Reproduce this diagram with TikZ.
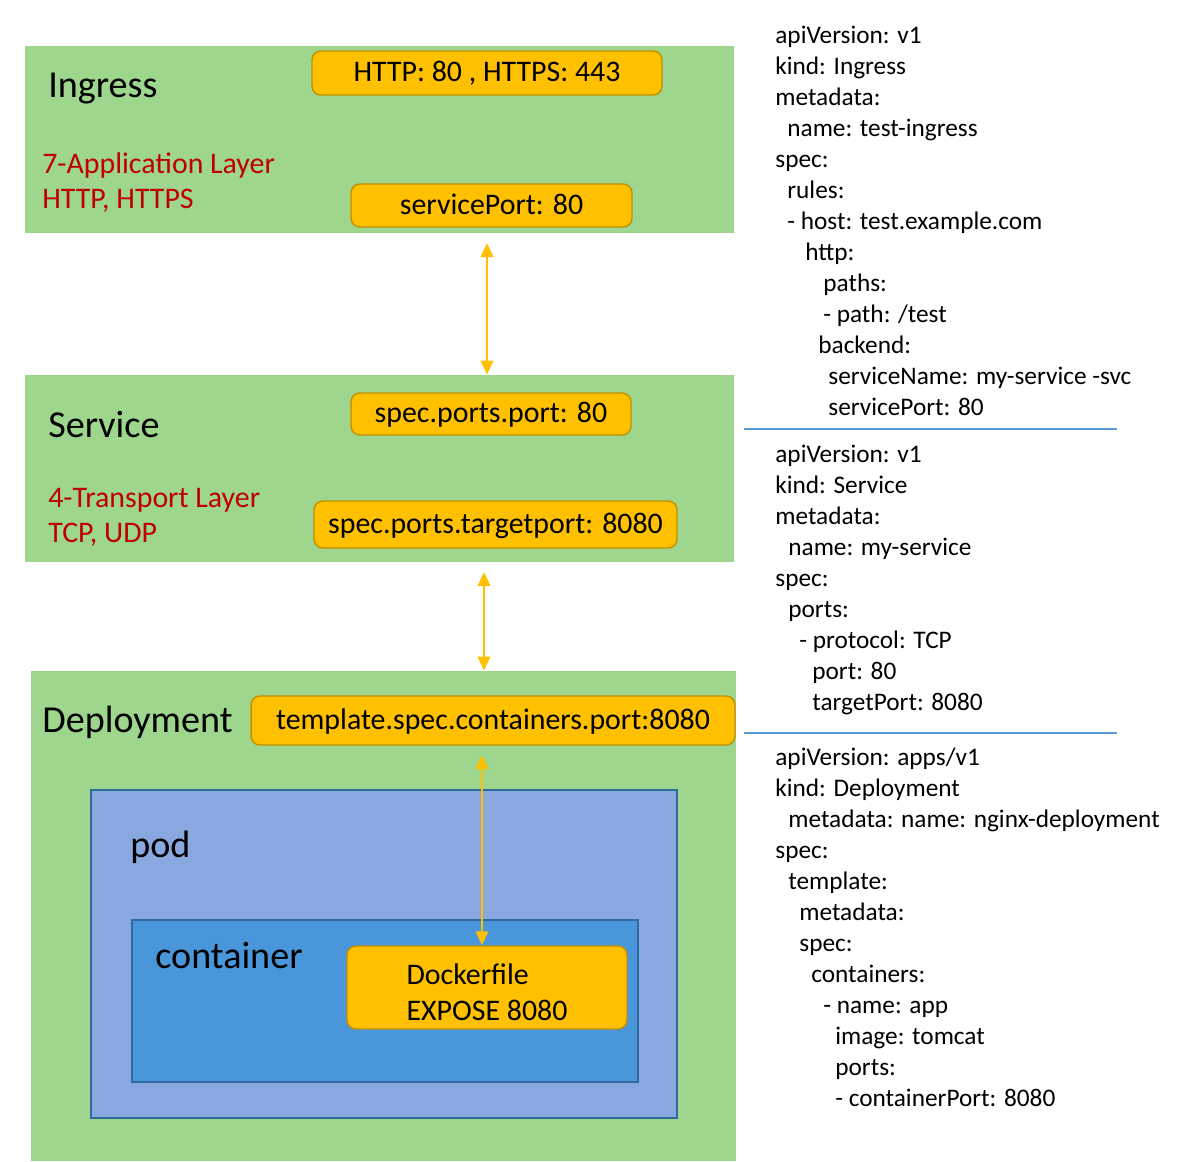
\documentclass[tikz,border=0pt]{standalone}
\usepackage{fontspec}
\setmainfont{Carlito}
\usetikzlibrary{arrows.meta,fit}
\tikzset{>={Triangle[length=8pt,width=7pt]}}
\definecolor{layergreen}{HTML}{9DD68C}
\definecolor{podblue}{HTML}{8AA8E0}
\definecolor{podedge}{HTML}{2F6B9A}
\definecolor{ctrblue}{HTML}{4A96DA}
\definecolor{ctredge}{HTML}{2E6AA0}
\definecolor{portfill}{HTML}{FFC000}
\definecolor{portedge}{HTML}{C09000}
\definecolor{layerred}{HTML}{C00000}
\definecolor{sepblue}{HTML}{5B9BD5}
\tikzset{
  layer/.style={fill=layergreen, inner sep=0pt},
  port/.style={fill=portfill, draw=portedge, line width=.8pt, rounded corners=5pt,
    inner sep=0pt, font=\fontsize{17}{20.4}\selectfont, text height=1.2em, text depth=.22em},
  title/.style={font=\fontsize{21.7}{26}\selectfont, inner sep=0pt, anchor=base west},
  osi/.style={font=\fontsize{17}{20}\selectfont, text=layerred, inner sep=0pt, anchor=base west},
  code/.style={font=\fontsize{14.4}{17}\selectfont, inner sep=0pt, anchor=base west},
  link/.style={<->, draw=portfill, line width=1.6pt},
  sepline/.style={draw=sepblue, line width=.6pt}
}

\begin{document}
\begin{tikzpicture}[x=0.02cm,y=-0.02cm]
\useasboundingbox (0,0) rectangle (1200,1161);
% layers
\node[layer, fit={(25,46) (734,233)}] (ingress) {};
\node[layer, fit={(25,375) (734,562)}] (svc) {};
\node[layer, fit={(31,671) (736,1161)}] (dep) {};
\node[fit={(91,790) (677,1118)}, fill=podblue, draw=podedge, line width=1.1pt, inner sep=0pt] (pod) {};
\node[fit={(132,920) (638,1082)}, fill=ctrblue, draw=ctredge, line width=1.1pt, inner sep=0pt] (ctr) {};
% names
\node[title] (ingT) at (48,97) {Ingress};
\node[osi] (l7a) at (42,173) {7-Application Layer};
\node[osi] (l7b) at (42,208) {HTTP, HTTPS};
\node[title] (svcT) at (48,437) {Service};
\node[osi] (l4a) at (48,507) {4-Transport Layer};
\node[osi] (l4b) at (48,542) {TCP, UDP};
\node[title] (depT) at (42,732) {Deployment};
\node[title] (podT) at (130,857) {pod};
\node[title] (ctrT) at (155,968) {container};
% ports
\node[port, minimum width=7cm, minimum height=.88cm] (http) at (487,73) {HTTP: 80 , HTTPS: 443};
\node[port, minimum width=5.62cm, minimum height=.86cm] (svcport) at (491.5,205.5) {servicePort: 80};
\node[port, minimum width=5.6cm, minimum height=.84cm] (specport) at (491,414) {spec.ports.port: 80};
\node[port, minimum width=7.26cm, minimum height=.94cm] (target) at (495.5,524.5) {spec.ports.targetport: 8080};
\node[port, minimum width=9.68cm, minimum height=.98cm] (tmpl) at (493,720.5) {template.spec.containers.port:8080};
\node[port, minimum width=5.6cm, minimum height=1.66cm, align=left, text height=, text depth=] (docker) at (487,987.5) {\rule{0pt}{1em}Dockerfile\\EXPOSE 8080};
% arrows
\coordinate (a1) at (487,243);
\coordinate (a2) at (484,572);
\coordinate (a3) at (482,755);
\draw[link] (a1) -- (a1 |- svc.north);
\draw[link] (a2) -- (a2 |- dep.north);
\draw[link] (a3) -- (a3 |- docker.north);
% yaml
\foreach \ind/\txt [count=\i from 0] in {775/{apiVersion: v1}, 775/{kind: Ingress}, 775/{metadata:},
  787/{name: test-ingress}, 775/{spec:}, 787/{rules:}, 787/{- host: test.example.com}, 805/{http:},
  823/{paths:}, 823/{- path: /test}, 818/{backend:}, 828/{serviceName: my-service -svc}, 828/{servicePort: 80}}
  \node[code] (ingY\i) at (\ind,43+31*\i) {\txt};
\draw[sepline] (744,429) -- (1117,429);
\foreach \ind/\txt [count=\i from 0] in {775/{apiVersion: v1}, 775/{kind: Service}, 775/{metadata:},
  788/{name: my-service}, 775/{spec:}, 788/{ports:}, 799/{- protocol: TCP}, 812/{port: 80}, 812/{targetPort: 8080}}
  \node[code] (svcY\i) at (\ind,462+31*\i) {\txt};
\draw[sepline] (744,733) -- (1117,733);
\foreach \ind/\txt [count=\i from 0] in {775/{apiVersion: apps/v1}, 775/{kind: Deployment},
  788/{metadata: name: nginx-deployment}, 775/{spec:}, 788/{template:}, 799/{metadata:}, 799/{spec:},
  811/{containers:}, 823/{- name: app}, 835/{image: tomcat}, 835/{ports:}, 835/{- containerPort: 8080}}
  \node[code] (depY\i) at (\ind,765+31*\i) {\txt};
\end{tikzpicture}
\end{document}
